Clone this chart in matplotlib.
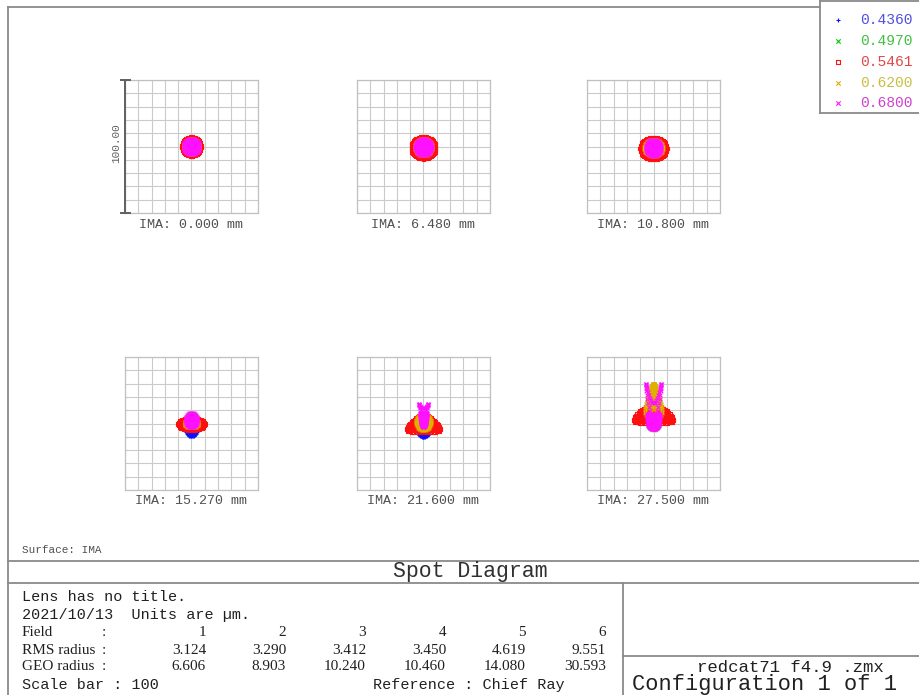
import numpy as np
import matplotlib
matplotlib.use('Agg')
import matplotlib.pyplot as plt

W, H = 920, 695
MONO = ['Liberation Mono', 'DejaVu Sans Mono']
SERIF = ['Liberation Serif', 'DejaVu Serif']

# ---------------- data ----------------
wavelengths = ['0.4360', '0.4970', '0.5461', '0.6200', '0.6800']
wave_colors = ['#1010ff', '#00c800', '#ff1010', '#e0b000', '#ff10ff']
legend_text_colors = ['#5050e0', '#40c040', '#e04848', '#c8c040', '#d040d0']
wave_markers = ['+', 'x', 's', 'x', 'x']

field_labels = ['IMA: 0.000 mm', 'IMA: 6.480 mm', 'IMA: 10.800 mm',
                'IMA: 15.270 mm', 'IMA: 21.600 mm', 'IMA: 27.500 mm']
field_numbers = ['1', '2', '3', '4', '5', '6']
rms_radius = ['3.124', '3.290', '3.412', '3.450', '4.619', '9.551']
geo_radius = ['6.606', '8.903', '10.240', '10.460', '14.080', '30.593']
scale_bar_um = 100

# spot shape (micrometres), rows = fields, cols = wavelengths
spot_dy = [[0.0, 0.0, 0.0, 0.0, 0.0],
           [-3.0, -1.0, -1.0, -0.5, -0.5],
           [-4.5, -1.5, -1.5, -1.0, -1.0],
           [-5.0, -1.0, -0.5, 0.0, 2.5],
           [-5.5, -1.0, 1.5, 1.0, 1.5],
           [0.0, 0.0, 8.5, 30.0, -0.5]]
spot_a = [[4.5, 5.0, 7.2, 5.5, 6.0],
          [5.5, 6.0, 9.2, 6.5, 6.2],
          [5.0, 6.5, 10.0, 7.0, 6.0],
          [4.0, 5.0, 10.0, 5.0, 4.5],
          [4.5, 6.0, 12.0, 5.5, 3.0],
          [3.5, 4.0, 14.5, 4.5, 5.8]]
spot_b = [[4.5, 5.0, 7.2, 5.5, 6.0],
          [5.5, 5.5, 8.3, 6.0, 6.2],
          [5.0, 5.5, 8.3, 6.0, 6.0],
          [4.5, 4.0, 4.5, 3.0, 5.5],
          [4.5, 5.0, 6.5, 6.0, 6.0],
          [3.5, 4.0, 7.0, 2.0, 5.8]]
coma_y = [[0, 0, 0, 0, 0],
          [0, 0, 0, 0, 0],
          [0, 0, 0, 0, 0],
          [0, 0, 0, 0, 0],
          [0, 0, -1.5, 0, 4.0],
          [0, 0, -1.5, -8.0, 10.0]]
coma_x = [[0, 0, 0, 0, 0],
          [0, 0, 0, 0, 0],
          [0, 0, 0, 0, 0],
          [0, 0, 0, 0, 0],
          [0, 0, -1.5, 0, 1.0],
          [0, 0, -1.5, -3.0, 0.0]]
coma_pow = [[2, 2, 2, 2, 2],
            [2, 2, 2, 2, 2],
            [2, 2, 2, 2, 2],
            [2, 2, 2, 2, 2],
            [2, 2, 2, 2, 8],
            [2, 2, 2, 2, 12]]

# ---------------- pupil sampling (hexapolar) ----------------
N_RINGS = 8
rho = [0.0]
theta = [0.0]
for k in range(1, N_RINGS + 1):
    n = 6 * k
    for j in range(n):
        rho.append(k / N_RINGS)
        theta.append(2 * np.pi * j / n)
rho = np.array(rho)
theta = np.array(theta)

# ---------------- figure ----------------
fig = plt.figure(figsize=(W / 100, H / 100), dpi=100)
bg = fig.add_axes([0, 0, 1, 1])
bg.set_xlim(0, W)
bg.set_ylim(H, 0)
bg.axis('off')

LINE = '#8a8a8a'
lw = 1.3
# outer frame
bg.plot([8, 820], [7, 7], color=LINE, lw=lw)
bg.plot([8, 8], [7, H], color=LINE, lw=lw)
bg.plot([8, W], [561, 561], color=LINE, lw=lw)
bg.plot([8, W], [583, 583], color=LINE, lw=lw)
bg.plot([623, 623], [583, H], color=LINE, lw=lw)
bg.plot([623, W], [656, 656], color=LINE, lw=lw)
# legend box
bg.plot([820, 820], [0, 113], color=LINE, lw=lw)
bg.plot([820, W], [113, 113], color=LINE, lw=lw)
bg.plot([820, W], [0.5, 0.5], color=LINE, lw=lw)

leg_y = [20, 41, 62, 83, 103]
for i in range(5):
    bg.scatter([838], [leg_y[i]], marker=wave_markers[i], s=10,
               facecolors='none' if wave_markers[i] == 's' else wave_colors[i],
               edgecolors=wave_colors[i], linewidths=0.8)
    bg.text(860, leg_y[i], wavelengths[i], color=legend_text_colors[i],
            fontsize=10.5, family=MONO, va='center', ha='left')

# spot boxes
col_left = [125, 357, 587]
row_top = [80, 357]
BOX = 133
label_y = [225, 501]
TXT = '#505050'

for f in range(6):
    r, c = divmod(f, 3)
    bx, by = col_left[c], row_top[r]
    ax = fig.add_axes([bx / W, 1 - (by + BOX) / H, BOX / W, BOX / H])
    ax.set_xlim(-50, 50)
    ax.set_ylim(-50, 50)
    ax.patch.set_alpha(0)
    ticks = np.arange(-50, 51, 10)
    ax.set_xticks(ticks)
    ax.set_yticks(ticks)
    ax.tick_params(length=0, labelbottom=False, labelleft=False)
    ax.grid(True, color='#cacaca', lw=0.8)
    for sp in ax.spines.values():
        sp.set_color('#c0c0c0')
        sp.set_linewidth(0.9)
    ax.set_axisbelow(True)
    for w in range(5):
        p = coma_pow[f][w]
        x = spot_a[f][w] * rho * np.cos(theta) + coma_x[f][w] * rho ** p * np.sin(2 * theta)
        y = (spot_dy[f][w] + spot_b[f][w] * rho * np.sin(theta)
             + coma_y[f][w] * rho ** p * (2 + np.cos(2 * theta)))
        if wave_markers[w] == 's':
            ax.scatter(x, y, marker='s', s=6, facecolors='none',
                       edgecolors=wave_colors[w], linewidths=0.8, zorder=3 + w)
        else:
            ax.scatter(x, y, marker=wave_markers[w], s=7, c=wave_colors[w],
                       linewidths=0.8, zorder=3 + w)
    if f == 0:
        ax.plot([-50, -50], [-50, 50], color='#606060', lw=1.4, clip_on=False, zorder=10)
        ax.plot([-53, -46], [50, 50], color='#606060', lw=1.4, clip_on=False, zorder=10)
        ax.plot([-53, -46], [-50, -50], color='#606060', lw=1.4, clip_on=False, zorder=10)
        ax.text(-56.5, 2.5, '%.2f' % scale_bar_um, rotation=90, ha='center', va='center',
                fontsize=8, family=MONO, color='#606060')
    bg.text(bx + BOX / 2, label_y[r], field_labels[f], ha='center', va='center',
            fontsize=9.6, family=MONO, color=TXT)

# texts
bg.text(22, 550, 'Surface: IMA', fontsize=7.9, family=MONO, color=TXT, va='center')
bg.text(470, 572, 'Spot Diagram', fontsize=15.5, family=MONO, color='#303030',
        ha='center', va='center')
bg.text(22, 597, 'Lens has no title.', fontsize=10.9, family=MONO, color='#202020', va='center')
bg.text(22, 615, '2021/10/13  Units are \u00b5m.', fontsize=10.9, family=MONO,
        color='#202020', va='center')

row_ys = [633, 650, 667]
row_names = ['Field', 'RMS radius', 'GEO radius']
row_vals = [field_numbers, rms_radius, geo_radius]
col_right = [206, 286, 366, 446, 526, 606]
for ry, name, vals in zip(row_ys, row_names, row_vals):
    bg.text(22, ry, name, fontsize=11, family=SERIF, color='#202020', va='center')
    bg.text(102, ry, ':', fontsize=11, family=SERIF, color='#202020', va='center')
    for cx, v in zip(col_right, vals):
        bg.text(cx, ry, v, fontsize=11, family=SERIF, color='#202020',
                va='center', ha='right')

bg.text(22, 685, 'Scale bar : %d' % scale_bar_um, fontsize=10.9, family=MONO,
        color='#202020', va='center')
bg.text(373, 685, 'Reference : Chief Ray', fontsize=10.9, family=MONO,
        color='#202020', va='center')
bg.text(790, 667, 'redcat71 f4.9 .zmx', fontsize=12.5, family=MONO, color='#202020',
        ha='center', va='center')
bg.text(632, 690, 'Configuration 1 of 1', fontsize=15.8, family=MONO, color='#202020',
        ha='left', va='baseline')

fig.savefig('out.png', dpi=100)
